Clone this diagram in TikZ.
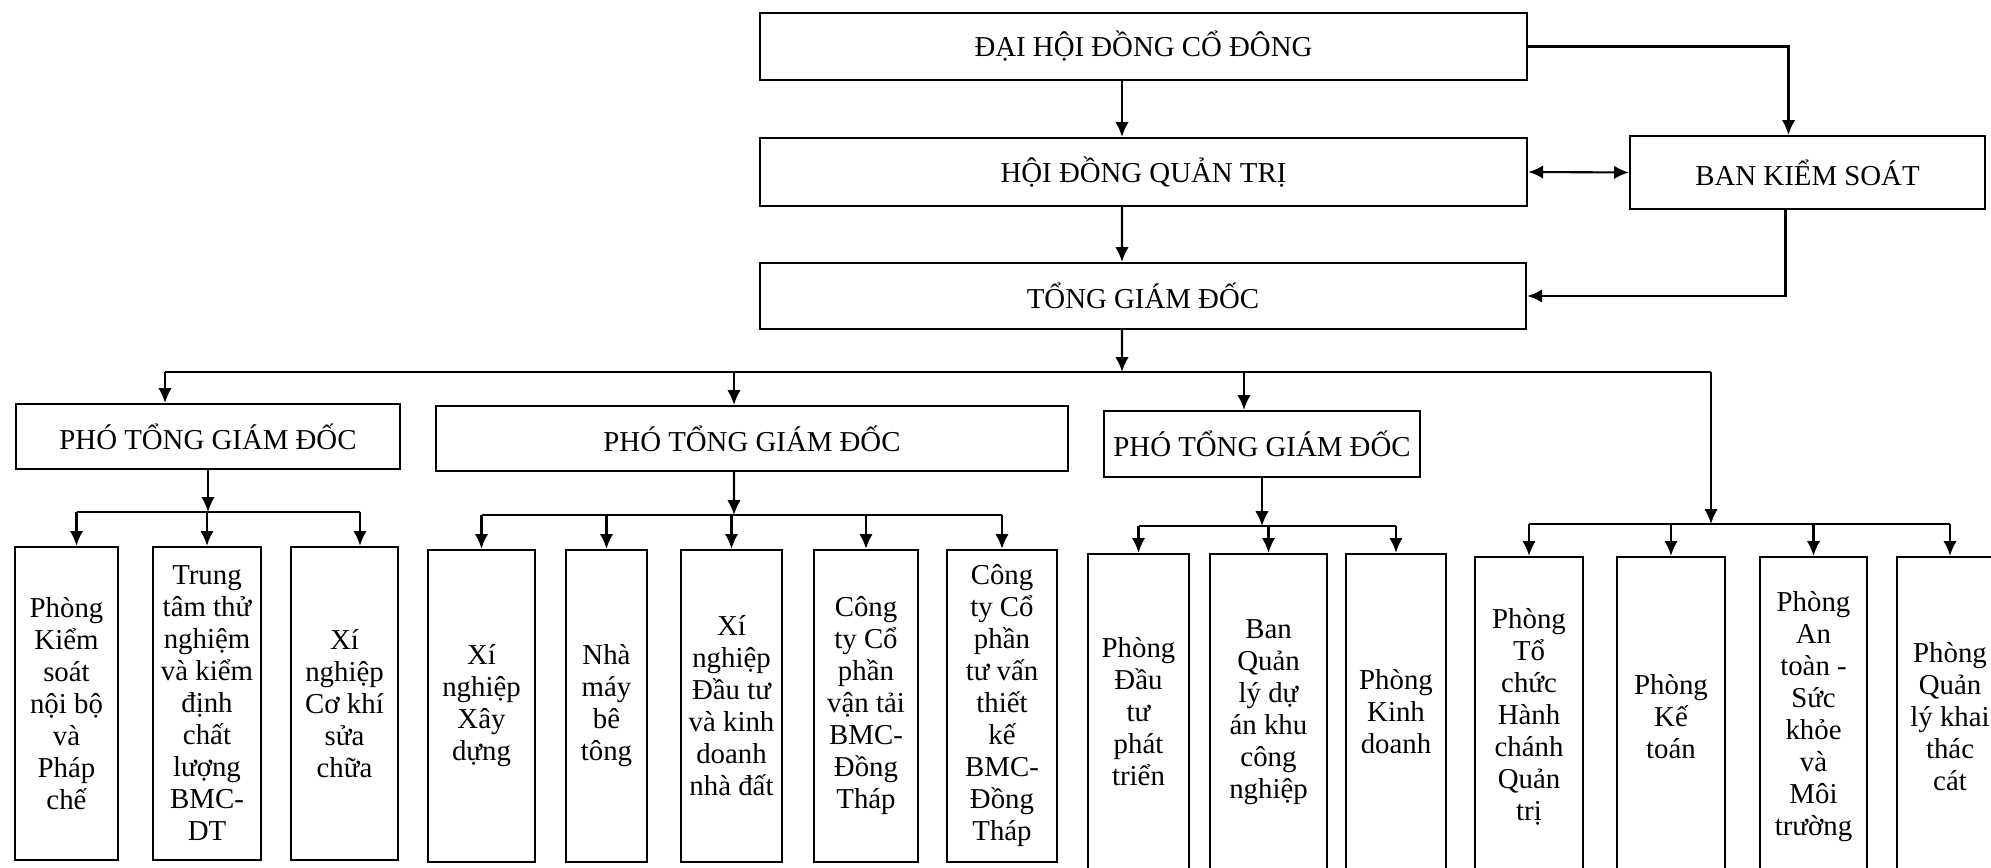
\documentclass[tikz,border=0pt]{standalone}
\usepackage{fontspec}
\setmainfont{Liberation Serif}
\usetikzlibrary{arrows.meta}
\tikzset{
  orgbox/.style={draw, semithick, rectangle, align=center, inner sep=1pt,
    font=\fontsize{8.2}{9.1}\selectfont},
  link/.style={semithick},
  arr/.style={semithick,-{Latex[length=4.2pt,width=3.8pt]}},
}

\begin{document}
\begin{tikzpicture}[x=0.01cm, y=-0.01cm]
  \useasboundingbox (0,0) rectangle (1991,868);
  \clip (0,0) rectangle (1991,868);

  % upper levels
  \node[orgbox, minimum width=7.67cm, minimum height=0.67cm] (dh) at (1143.5,46.5) {ĐẠI HỘI ĐỒNG CỔ ĐÔNG};
  \node[orgbox, minimum width=7.67cm, minimum height=0.68cm] (hd) at (1143.5,172) {HỘI ĐỒNG QUẢN TRỊ};
  \node[orgbox, minimum width=7.66cm, minimum height=0.66cm] (tgd) at (1143,296) {TỔNG GIÁM ĐỐC};
  \node[orgbox, minimum width=3.55cm, minimum height=0.73cm] (bks) at (1807.5,172.5) {BAN KIỂM SOÁT};

  \draw[arr] ([xshift=-.215cm]dh.south) -- ([xshift=-.215cm]hd.north);
  \draw[arr] ([xshift=-.215cm]hd.south) -- ([xshift=-.21cm]tgd.north);
  \draw[arr] (dh.east) -| ([xshift=-.19cm]bks.north);
  \draw[link, {Latex[length=4.2pt,width=3.8pt]}-{Latex[length=4.2pt,width=3.8pt]}] (hd.east) -- (bks.west);
  \draw[arr] ([xshift=-.22cm]bks.south) |- (tgd.east);

  % deputies
  \node[orgbox, minimum width=3.84cm, minimum height=0.65cm] (pho1) at (208,436.5) {PHÓ TỔNG GIÁM ĐỐC};
  \node[orgbox, minimum width=6.32cm, minimum height=0.65cm] (pho2) at (752,438.5) {PHÓ TỔNG GIÁM ĐỐC};
  \node[orgbox, minimum width=3.16cm, minimum height=0.66cm] (pho3) at (1262,444) {PHÓ TỔNG GIÁM ĐỐC};

  \coordinate (bus) at (1122,372);
  \coordinate (busL) at (165,372);
  \coordinate (busR) at (1711,372);
  \draw[arr] ([xshift=-.21cm]tgd.south) -- (bus);
  \draw[link] (busL) -- (busR);
  \draw[arr] (busL) -- (busL |- pho1.north);
  \draw[arr] ([xshift=-.18cm]pho2.north |- bus) -- ([xshift=-.18cm]pho2.north);
  \draw[arr] ([xshift=-.18cm]pho3.north |- bus) -- ([xshift=-.18cm]pho3.north);

  % units under the first deputy
  \node[orgbox, minimum width=1.03cm, minimum height=3.13cm] (b1) at (66.5,703.5) {Phòng\\Kiểm\\soát\\nội bộ\\và\\Pháp\\chế};
  \node[orgbox, minimum width=1.08cm, minimum height=3.13cm] (b2) at (207,703.5) {Trung\\tâm thử\\nghiệm\\và kiểm\\định\\chất\\lượng\\BMC-\\DT};
  \node[orgbox, minimum width=1.07cm, minimum height=3.13cm] (b3) at (344.5,703.5) {Xí\\nghiệp\\Cơ khí\\sửa\\chữa};

  \coordinate (s1) at (208,512);
  \draw[arr] (pho1.south) -- (s1);
  \draw[link] ([xshift=.1cm]b1.north |- s1) -- ([xshift=.155cm]b3.north |- s1);
  \draw[arr] ([xshift=.1cm]b1.north |- s1) -- ([xshift=.1cm]b1.north);
  \draw[arr] (b2.north |- s1) -- (b2.north);
  \draw[arr] ([xshift=.155cm]b3.north |- s1) -- ([xshift=.155cm]b3.north);

  % units under the second deputy
  \node[orgbox, minimum width=1.07cm, minimum height=3.12cm] (c1) at (481.5,706) {Xí\\nghiệp\\Xây\\dựng};
  \node[orgbox, minimum width=0.81cm, minimum height=3.12cm] (c2) at (606.5,706) {Nhà\\máy\\bê\\tông};
  \node[orgbox, minimum width=1.01cm, minimum height=3.12cm] (c3) at (731.5,706) {Xí\\nghiệp\\Đầu tư\\và kinh\\doanh\\nhà đất};
  \node[orgbox, minimum width=1.04cm, minimum height=3.12cm] (c4) at (866,706) {Công\\ty Cổ\\phần\\vận tải\\BMC-\\Đồng\\Tháp};
  \node[orgbox, minimum width=1.10cm, minimum height=3.12cm] (c5) at (1002,706) {Công\\ty Cổ\\phần\\tư vấn\\thiết\\kế\\BMC-\\Đồng\\Tháp};

  \coordinate (s2) at (734,515);
  \draw[arr] ([xshift=-.18cm]pho2.south) -- (s2);
  \draw[link] (c1.north |- s2) -- (c5.north |- s2);
  \foreach \n in {c1,c2,c3,c4,c5}
    \draw[arr] (\n.north |- s2) -- (\n.north);

  % units under the third deputy
  \node[orgbox, minimum width=1.01cm, minimum height=3.16cm] (d1) at (1138.5,712) {Phòng\\Đầu\\tư\\phát\\triển};
  \node[orgbox, minimum width=1.17cm, minimum height=3.16cm] (d2) at (1268.5,712) {Ban\\Quản\\lý dự\\án khu\\công\\nghiệp};
  \node[orgbox, minimum width=1.00cm, minimum height=3.16cm] (d3) at (1396,712) {Phòng\\Kinh\\doanh};

  \coordinate (s3) at (1262,526);
  \draw[arr] (pho3.south) -- (s3);
  \draw[link] (d1.north |- s3) -- (d3.north |- s3);
  \foreach \n in {d1,d2,d3}
    \draw[arr] (\n.north |- s3) -- (\n.north);

  % offices under the general director
  \node[orgbox, minimum width=1.08cm, minimum height=3.19cm] (e1) at (1529,716.5) {Phòng\\Tổ\\chức\\Hành\\chánh\\Quản\\trị};
  \node[orgbox, minimum width=1.08cm, minimum height=3.19cm] (e2) at (1671,716.5) {Phòng\\Kế\\toán};
  \node[orgbox, minimum width=1.07cm, minimum height=3.19cm] (e3) at (1813.5,716.5) {Phòng\\An\\toàn -\\Sức\\khỏe\\và\\Môi\\trường};
  \node[orgbox, minimum width=1.06cm, minimum height=3.19cm] (e4) at (1950,716.5) {Phòng\\Quản\\lý khai\\thác\\cát};

  \coordinate (s4) at (1711,524);
  \draw[arr] (busR) -- (s4);
  \draw[link] (e1.north |- s4) -- (e4.north |- s4);
  \foreach \n in {e1,e2,e3,e4}
    \draw[arr] (\n.north |- s4) -- (\n.north);
\end{tikzpicture}
\end{document}
